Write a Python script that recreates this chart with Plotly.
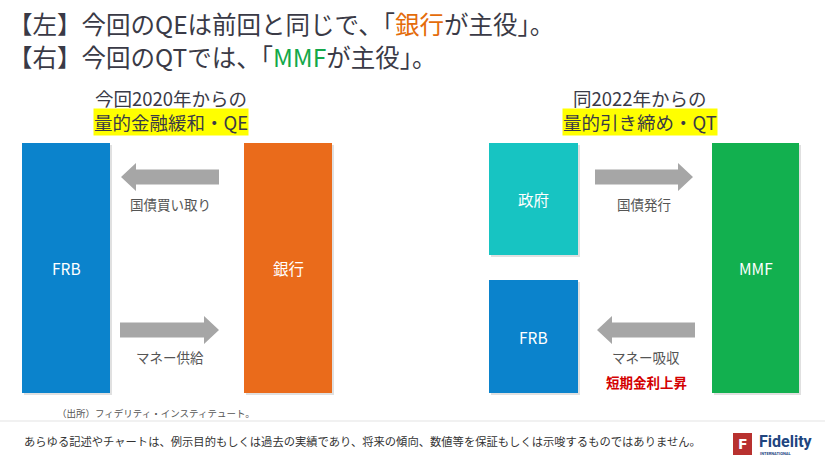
import plotly.graph_objects as go

# ---------------- contents of the diagram ----------------
title_lines = ["【左】今回のQEは前回と同じで、「{銀行}が主役」。",
               "【右】今回のQTでは、「{MMF}が主役」。"]
headings_top = ["今回2020年からの", "同2022年からの"]
headings_mark = ["量的金融緩和・QE", "量的引き締め・QT"]
box_labels = ["FRB", "銀行", "政府", "FRB", "MMF"]
arrow_labels = ["国債買い取り", "マネー供給", "国債発行", "マネー吸収"]
arrow_dirs = ["left", "right", "right", "left"]
note_red = "短期金利上昇"
source = "（出所）フィデリティ・インスティテュート。"
disclaimer = ("あらゆる記述やチャートは、例示目的もしくは過去の実績であり、"
              "将来の傾向、数値等を保証もしくは示唆するものではありません。")

FONT = "Noto Sans CJK JP"
TXT = "#3a3a46"
GREY = "#a6a6a6"

# box geometry (x0, x1, y0, y1) in pixels and fill colours
box_pos = [(22, 110, 143, 393), (244, 332, 143, 393),
           (489, 578, 143, 255), (489, 578, 280, 393),
           (712, 799, 143, 393)]
box_col = ["#0b83cc", "#ea6b1b", "#17c4c2", "#0b83cc", "#12b04f"]

# arrow geometry (x0, x1, y)
arrow_pos = [(121, 219, 177), (120, 219, 330), (595, 693, 177), (597, 695, 330)]

fig = go.Figure()
shapes = []
ann = []

# boxes with a faint shadow
for (x0, x1, y0, y1), col, lab in zip(box_pos, box_col, box_labels):
    shapes.append(dict(type="rect", x0=x0 + 2, x1=x1 + 2, y0=y0 + 2, y1=y1 + 2,
                       fillcolor="rgba(0,0,0,0.12)", line_width=0, layer="below"))
    shapes.append(dict(type="rect", x0=x0, x1=x1, y0=y0, y1=y1,
                       fillcolor=col, line_width=0, layer="below"))
    ann.append(dict(x=(x0 + x1) / 2, y=(y0 + y1) / 2, text=lab, showarrow=False,
                    font=dict(family=FONT, size=15.5, color="white")))


def arrow_path(x0, x1, y, d):
    sh, hh, hl = 7.5, 14, 15  # shaft half height, head half height, head length
    if d == "right":
        xb = x1 - hl
        pts = [(x0, y - sh), (xb, y - sh), (xb, y - hh), (x1, y),
               (xb, y + hh), (xb, y + sh), (x0, y + sh)]
    else:
        xb = x0 + hl
        pts = [(x1, y - sh), (xb, y - sh), (xb, y - hh), (x0, y),
               (xb, y + hh), (xb, y + sh), (x1, y + sh)]
    return "M " + " L ".join(f"{a},{b}" for a, b in pts) + " Z"


for (x0, x1, y), d, lab in zip(arrow_pos, arrow_dirs, arrow_labels):
    shapes.append(dict(type="path", path=arrow_path(x0, x1, y, d),
                       fillcolor=GREY, line_width=0))
    ann.append(dict(x=(x0 + x1) / 2, y=y + 27, text=lab, showarrow=False,
                    font=dict(family=FONT, size=13.5, color="#555555")))

ann.append(dict(x=646, y=382, text="<b>" + note_red + "</b>", showarrow=False,
                font=dict(family=FONT, size=13.5, color="#d40000")))

# title lines
title_html = [title_lines[0].replace("{銀行}", '<span style="color:#e46c0a">銀行</span>'),
              title_lines[1].replace("{MMF}", '<span style="color:#14a84a">MMF</span>')]
for i, t in enumerate(title_html):
    ann.append(dict(x=6, y=23 + i * 33, text=t, showarrow=False, xanchor="left",
                    font=dict(family=FONT, size=24.5, color=TXT)))

# headings
for cx, top, mark in zip([171, 640], headings_top, headings_mark):
    ann.append(dict(x=cx, y=98, text=top, showarrow=False,
                    font=dict(family=FONT, size=18.5, color=TXT)))
    ann.append(dict(x=cx, y=122, text=mark, showarrow=False, bgcolor="#ffff00",
                    borderpad=0, font=dict(family=FONT, size=18.5, color=TXT)))

# source and footer
ann.append(dict(x=55, y=413, text=source, showarrow=False, xanchor="left",
                font=dict(family=FONT, size=9.5, color="#555555")))
shapes.append(dict(type="line", x0=0, x1=825, y0=421, y1=421,
                   line=dict(color="#e3e3e3", width=1)))
ann.append(dict(x=22, y=441, text=disclaimer, showarrow=False, xanchor="left",
                font=dict(family=FONT, size=11.3, color="#333333")))

# logo
shapes.append(dict(type="rect", x0=733, x1=752, y0=433, y1=455,
                   fillcolor="#b8312f", line_width=0))
ann.append(dict(x=742.5, y=444, text="<b>F</b>", showarrow=False,
                font=dict(family="DejaVu Sans", size=14, color="white")))
ann.append(dict(x=757, y=441, text="<b>Fidelity</b>", showarrow=False, xanchor="left",
                font=dict(family="Roboto", size=16, color="#21457f")))
ann.append(dict(x=758, y=453, text="<b>INTERNATIONAL</b>", showarrow=False, xanchor="left",
                font=dict(family="Roboto", size=4, color="#21457f")))

fig.update_layout(
    width=825, height=464,
    margin=dict(l=0, r=0, t=0, b=0),
    paper_bgcolor="white", plot_bgcolor="white",
    xaxis=dict(range=[0, 825], visible=False, fixedrange=True),
    yaxis=dict(range=[464, 0], visible=False, fixedrange=True),
    shapes=shapes, annotations=ann, showlegend=False,
)

# the page has a default body margin; drop it so the figure fills the window
fig.write_html("out.html", config={"displayModeBar": False},
               post_script="document.body.style.margin='0';")
